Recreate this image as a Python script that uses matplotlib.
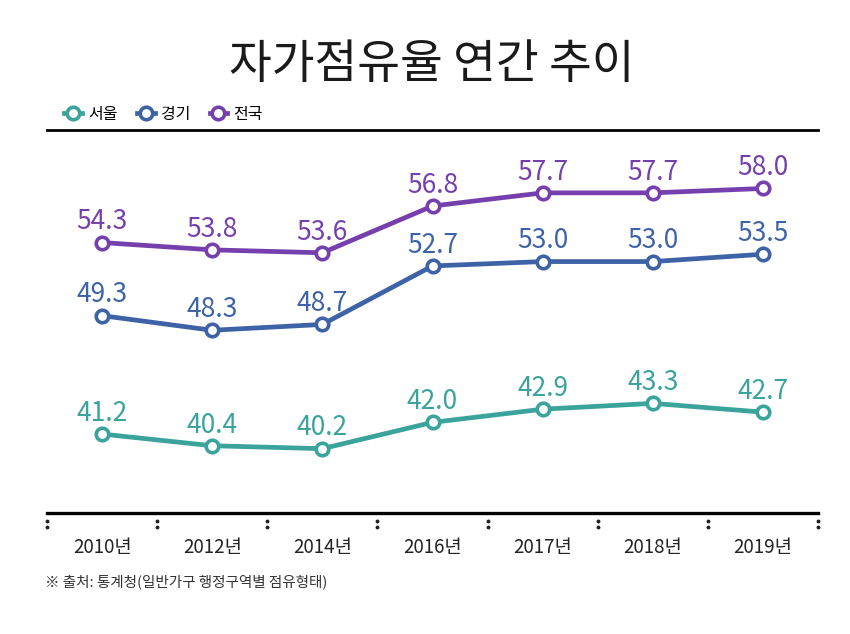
import numpy as np
import matplotlib
matplotlib.use("Agg")
import matplotlib.pyplot as plt
from matplotlib.lines import Line2D

plt.rcParams['font.family'] = ['Noto Sans CJK KR', 'DejaVu Sans']

# ---------------- data ----------------
years = ['2010년', '2012년', '2014년', '2016년', '2017년', '2018년', '2019년']
seoul = [41.2, 40.4, 40.2, 42.0, 42.9, 43.3, 42.7]
gyeonggi = [49.3, 48.3, 48.7, 52.7, 53.0, 53.0, 53.5]
national = [54.3, 53.8, 53.6, 56.8, 57.7, 57.7, 58.0]
series_names = ['서울', '경기', '전국']
colors = ['#3aa39c', '#3d63a6', '#7540ad']

fig = plt.figure(figsize=(8.5, 6.34), dpi=100)
ax = fig.add_axes([47 / 850, 1 - 513 / 634, (818 - 47) / 850, (513 - 130) / 634])

x = np.arange(len(years))
for vals, name, c in zip([seoul, gyeonggi, national], series_names, colors):
    ax.plot(x, vals, color=c, lw=3.4, marker='o', ms=9, mfc='white', mec=c, mew=2.6,
            solid_joinstyle='round', label=name, zorder=3)
    for xi, v in zip(x, vals):
        ax.annotate(f'{v:.1f}', (xi, v), xytext=(0, 9.5), textcoords='offset points',
                    ha='center', va='baseline', color=c, fontsize=19)

ax.set_xlim(-0.5, len(years) - 0.5)
ax.set_ylim(35.8, 62.0)
ax.set_yticks([])
ax.set_xticks(x)
ax.set_xticklabels(years, fontsize=13.5, color='#222222')
ax.tick_params(axis='x', length=0, pad=17)

for s in ['left', 'right']:
    ax.spines[s].set_visible(False)
ax.spines['top'].set_linewidth(2.0)
ax.spines['bottom'].set_linewidth(2.4)

# dotted separators below the axis
bx = np.arange(-0.5, len(years), 1.0)
tr = ax.get_xaxis_transform()
for b in bx:
    ax.plot([b, b], [-0.022, -0.036], transform=tr, ls='none', marker='o', ms=1.8,
            color='#222222', clip_on=False)

# legend
handles = [Line2D([0], [0], color=c, lw=3.4, marker='o', ms=9, mfc='white', mec=c, mew=2.6)
           for c in colors]
fig.legend(handles, series_names, loc='center left', bbox_to_anchor=(50 / 850, 1 - 114 / 634),
           ncol=3, frameon=False, handlelength=1.1, handletextpad=0.4, columnspacing=1.2,
           prop={'family': ['Noto Sans CJK KR'], 'size': 11.5})

fig.text(432 / 850, 1 - 65 / 634, '자가점유율 연간 추이', ha='center', va='center',
         fontsize=33.5, family=['Noto Sans CJK KR'], color='#1a1a1a')
fig.text(45 / 850, 1 - 582 / 634, '※ 출처: 통계청(일반가구 행정구역별 점유형태)', ha='left', va='center',
         fontsize=10.5, family=['Noto Sans CJK KR', 'DejaVu Sans'], color='#333333')

fig.savefig('out.png', dpi=100)
